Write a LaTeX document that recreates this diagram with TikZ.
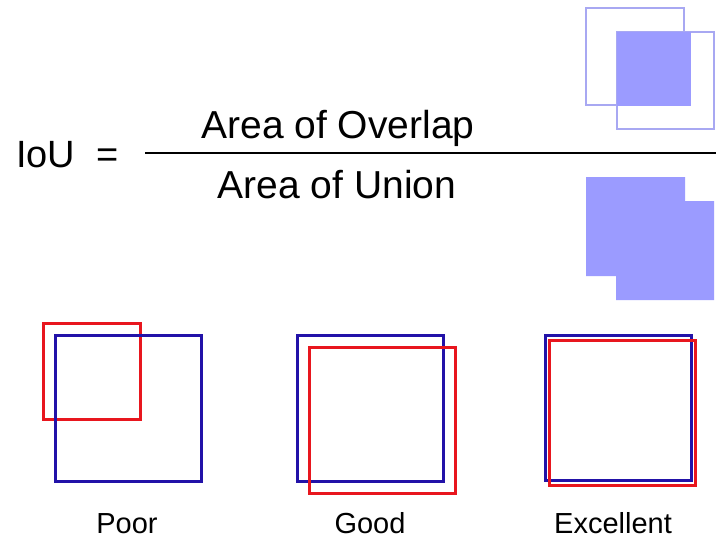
\documentclass[tikz,border=0pt]{standalone}
\usepackage{fontspec}
\setmainfont{Liberation Sans}
\definecolor{boxblue}{HTML}{2212A8}
\definecolor{boxred}{HTML}{E8161E}
\definecolor{areafill}{HTML}{9B9BFF}
\definecolor{arealine}{HTML}{A8A8F2}

\begin{document}
\begin{tikzpicture}[x=1pt,y=-1pt,line join=miter]
	\tikzstyle{big}=[inner sep=0pt,font=\fontsize{39}{45}\selectfont]
	\tikzstyle{label}=[inner sep=0pt,anchor=base,font=\fontsize{29}{35}\selectfont]
	\tikzstyle{truth}=[draw=boxblue,line width=3pt]
	\tikzstyle{guess}=[draw=boxred,line width=3pt]
	\tikzstyle{outline}=[draw=arealine,line width=2pt]

	\useasboundingbox (0,0) rectangle (716,539);

	% formula
	\node[big,anchor=base west,font=\fontsize{38}{44}\selectfont] (iou) at (16,167) {IoU};
	\node[big,anchor=base,font=\fontsize{38}{44}\selectfont] (eq) at (108,167) {=};
	\node[big,anchor=base] (num) at (338,138) {Area of Overlap};
	\node[big,anchor=base] (den) at (337,198) {Area of Union};
	\coordinate (barL) at (145,153);
	\coordinate (barR) at (716,153);
	\draw[line width=2.6pt] (barL) -- (barR);

	% overlap picture
	\draw[outline] (586,8) rectangle (684,105);
	\draw[outline] (617,32) rectangle (714,129);
	\fill[areafill] (617,32) rectangle (691,106);

	% union picture
	\fill[areafill] (586,177) -- (685,177) -- (685,201) -- (714,201)
		-- (714,300) -- (616,300) -- (616,276) -- (586,276) -- cycle;

	% examples
	\draw[guess] (43,323) rectangle (140,419);
	\draw[truth] (55,335) rectangle (201,481);
	\node[label] (poor) at (127,533) {Poor};

	\draw[truth] (297,335) rectangle (443,481);
	\draw[guess] (309,347) rectangle (455,493);
	\node[label] (good) at (370,533) {Good};

	\draw[truth] (545,335) rectangle (691,480);
	\draw[guess] (549,340) rectangle (695,485);
	\node[label] (excellent) at (613,533) {Excellent};
\end{tikzpicture}
\end{document}
